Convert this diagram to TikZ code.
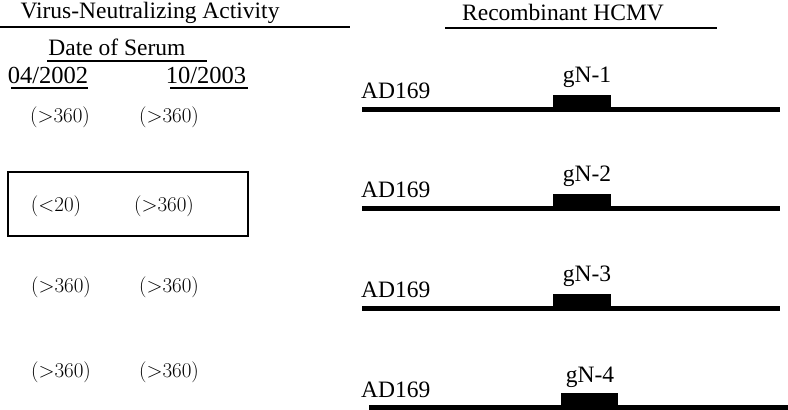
\documentclass[tikz,border=0pt]{standalone}
\usepackage{fontspec}
\setmainfont{Liberation Serif}
\newfontfamily\lmfont{Latin Modern Roman}
\begin{document}
\begin{tikzpicture}[x=1pt,y=-1pt,
  lbl/.style={font=\fontsize{23.5}{26}\selectfont, inner sep=0pt, anchor=base},
  val/.style={font=\lmfont\fontsize{21}{24}\selectfont, inner sep=0pt},
  rule/.style={line width=2pt},
  genome/.style={line width=5pt},
  insert/.style={fill=black, draw=none}]
\useasboundingbox (0,0) rectangle (788,410);
% headers
\node[lbl] (vna) at (150,18) {Virus-Neutralizing Activity};
\draw[rule] (0,27) -- (350,27);
\node[lbl] (rec) at (563,20) {Recombinant HCMV};
\draw[rule] (445,28) -- (717,28);
\node[lbl] (dos) at (117,55) {Date of Serum};
\draw[rule] (47,61) -- (207,61);
\node[lbl,font=\fontsize{24.5}{26}\selectfont] (d1) at (48,83) {04/2002};
\draw[line width=1.5pt] (11,88) -- (88,88);
\node[lbl,font=\fontsize{24.5}{26}\selectfont] (d2) at (206,83) {10/2003};
\draw[line width=1.5pt] (170,88) -- (248,88);
% values
\node[val] (v11) at (60,117) {(>360)};
\node[val] (v12) at (169,117) {(>360)};
\draw[line width=2pt] (8,172) rectangle (248,236);
\node[val] (v21) at (56,206) {(<20)};
\node[val] (v22) at (164,206) {(>360)};
\node[val] (v31) at (61,287) {(>360)};
\node[val] (v32) at (169,287) {(>360)};
\node[val] (v41) at (61,372) {(>360)};
\node[val] (v42) at (169,372) {(>360)};
% genomes
\foreach \y/\n in {109/1,208/2,308/3}{
  \node[lbl, anchor=base west] (ad\n) at (361,\y-11) {AD169};
  \draw[genome] (362,\y) -- (780,\y);
  \fill[insert] (553,\y-14) rectangle (611,\y);
  \node[lbl] (g\n) at (587,\y-27) {gN-\n};
}
\node[lbl, anchor=base west] (ad4) at (361,397) {AD169};
\draw[genome] (369,407) -- (788,407);
\fill[insert] (561,393) rectangle (618,407);
\node[lbl] (g4) at (590,382) {gN-4};
\end{tikzpicture}
\end{document}
